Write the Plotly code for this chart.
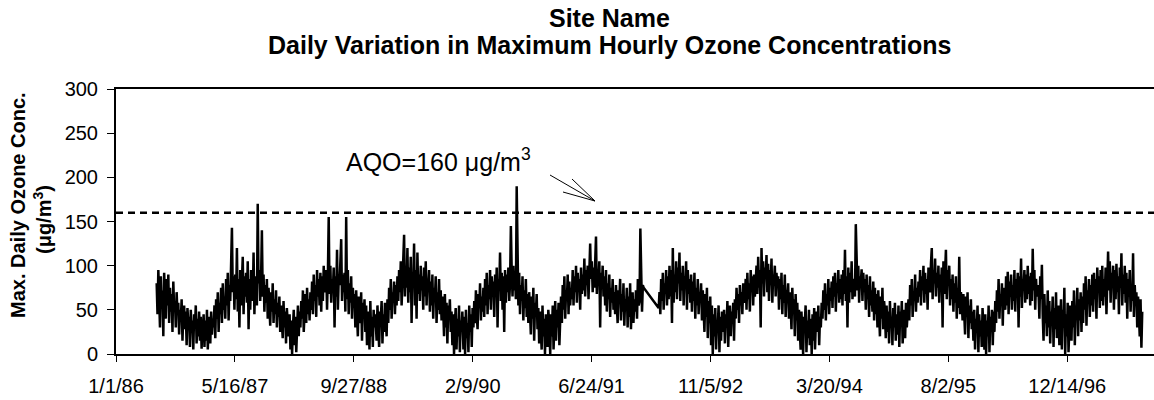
import pandas as pd
import plotly.graph_objects as go

# ---- data: twice-weekly readings of max daily ozone (ug/m3) ----
start_1986 = "1986-06-21"
y1986 = [80, 45, 95, 60, 30, 88, 52, 72, 20, 92, 65, 40, 85,
         55, 90, 35, 75, 48, 68, 25, 82, 50, 60, 30, 70, 45,
         58, 22, 50, 38, 62, 15, 45, 55, 28, 48, 10, 52, 35,
         42, 8, 50, 25, 38, 5, 45, 30, 55, 12, 40, 20, 48,
         15, 42, 6, 35]
y1987 = [25, 45, 8, 38, 15, 50, 5, 32, 42, 12, 48, 22, 40,
         30, 55, 18, 62, 40, 70, 25, 58, 45, 75, 35, 80, 50,
         65, 40, 85, 55, 92, 38, 78, 60, 95, 143, 70, 88, 50,
         90, 62, 120, 48, 85, 30, 95, 55, 80, 110, 45, 88, 65,
         92, 58, 105, 28, 85, 50, 95, 75, 60, 115, 45, 88, 72,
         55, 170, 80, 95, 60, 85, 140, 65, 90, 48, 78, 58, 85,
         40, 75, 55, 32, 70, 48, 80, 35, 62, 45, 72, 30, 58,
         42, 65, 25, 55, 38, 18, 60, 30, 48, 12, 52, 35, 20]
y1988 = [45, 5, 38, 0, 30, 50, 10, 42, 2, 35, 55, 20, 48,
         30, 60, 40, 72, 25, 55, 68, 35, 75, 45, 62, 38, 70,
         50, 82, 45, 90, 60, 78, 42, 95, 65, 85, 55, 92, 48,
         88, 60, 100, 70, 75, 95, 50, 90, 155, 68, 100, 58, 85,
         72, 98, 30, 88, 65, 118, 50, 85, 78, 100, 130, 60, 90,
         70, 92, 48, 155, 62, 95, 45, 80, 58, 88, 40, 75, 55,
         68, 30, 72, 45, 20, 65, 50, 35, 70, 15, 58, 40, 62,
         25, 55, 10, 48, 35, 5, 60, 20, 42, 8, 50, 30, 45]
y1989 = [15, 55, 30, 8, 48, 40, 60, 12, 45, 25, 58, 35, 20,
         62, 35, 75, 50, 85, 40, 70, 58, 82, 45, 78, 55, 88,
         60, 95, 70, 105, 55, 80, 110, 135, 65, 100, 75, 120, 58,
         98, 70, 110, 35, 92, 80, 125, 55, 95, 40, 115, 68, 90,
         60, 100, 72, 88, 50, 98, 65, 105, 55, 85, 78, 95, 48,
         82, 55, 90, 40, 75, 62, 88, 35, 70, 50, 85, 45, 72,
         38, 65, 50, 20, 68, 30, 58, 12, 55, 42, 62, 25, 48,
         10, 45, 0, 35, 52, 5, 40, 20, 55, 2, 38, 28, 48]
y1990 = [5, 42, 0, 50, 18, 35, 2, 55, 25, 45, 8, 52, 30,
         60, 35, 72, 45, 28, 68, 52, 80, 38, 65, 48, 75, 42,
         85, 55, 92, 45, 78, 62, 95, 50, 88, 70, 82, 42, 90,
         65, 98, 30, 85, 72, 115, 60, 92, 50, 88, 25, 95, 58,
         90, 70, 98, 60, 80, 145, 95, 65, 100, 72, 88, 62, 190,
         85, 55, 92, 45, 78, 60, 88, 38, 72, 52, 85, 42, 68,
         35, 70, 50, 22, 65, 40, 75, 15, 58, 45, 68, 28, 52,
         12, 48, 30, 5, 55, 20, 40, 0, 45, 25, 8, 50, 35]
y1991 = [0, 45, 20, 55, 5, 38, 60, 15, 50, 30, 58, 10, 42,
         65, 35, 78, 50, 88, 40, 72, 60, 90, 45, 82, 55, 75,
         62, 95, 55, 88, 70, 100, 58, 92, 75, 85, 50, 98, 68,
         90, 72, 108, 65, 95, 78, 100, 62, 115, 125, 85, 105, 70,
         98, 75, 110, 133, 68, 95, 82, 105, 30, 92, 78, 100, 65,
         88, 55, 95, 48, 80, 62, 90, 42, 75, 58, 85, 50, 70,
         45, 78, 55, 35, 72, 60, 85, 38, 68, 48, 80, 32, 62,
         50, 75, 30, 65, 42, 80, 28, 58, 70, 35, 62, 48, 72]
y1992 = [40, 85, 55, 60, 142, 90, 48, 78, 75, None, None, None, None,
         None, None, None, None, None, None, None, None, None, None, None, None, None,
         52, 70, 45, 85, 60, 92, 50, 80, 68, 95, 55, 88, 62,
         100, 65, 95, 35, 120, 58, 90, 70, 105, 62, 98, 80, 115,
         60, 92, 72, 100, 55, 88, 78, 105, 50, 95, 68, 85, 58,
         90, 48, 82, 60, 92, 40, 75, 55, 85, 45, 70, 62, 80,
         38, 72, 50, 25, 68, 42, 75, 18, 60, 35, 65, 10, 55,
         0, 45, 20, 52, 5, 38, 30, 55, 2, 42, 15, 48, 25]
y1993 = [50, 12, 45, 30, 60, 8, 40, 55, 20, 48, 35, 58, 15,
         62, 40, 75, 50, 68, 35, 78, 55, 70, 45, 80, 58, 65,
         85, 50, 92, 62, 80, 48, 95, 70, 88, 55, 90, 65, 82,
         100, 68, 110, 75, 95, 30, 120, 80, 105, 65, 98, 85, 112,
         70, 102, 60, 95, 78, 108, 58, 90, 82, 100, 65, 92, 75,
         88, 50, 85, 62, 92, 45, 78, 58, 90, 42, 72, 65, 80,
         40, 70, 55, 28, 75, 45, 62, 20, 68, 38, 58, 15, 50,
         30, 5, 48, 22, 0, 42, 35, 55, 2, 38, 18, 50, 10]
y1994 = [40, 0, 45, 15, 52, 5, 35, 48, 25, 55, 10, 42, 30,
         58, 40, 72, 50, 80, 38, 68, 55, 85, 45, 75, 60, 82,
         52, 88, 65, 92, 48, 80, 70, 95, 58, 85, 62, 90, 55,
         95, 68, 118, 60, 88, 30, 98, 58, 92, 70, 105, 62, 85,
         78, 65, 147, 95, 72, 100, 58, 88, 80, 96, 60, 92, 70,
         85, 50, 90, 62, 78, 42, 88, 55, 72, 48, 82, 38, 75,
         45, 68, 30, 72, 52, 20, 65, 40, 75, 28, 60, 48, 18,
         55, 25, 48, 12, 60, 35, 42, 10, 52, 30, 58, 15, 45]
y1995 = [22, 55, 8, 48, 35, 60, 12, 42, 50, 18, 58, 30, 45,
         62, 38, 78, 55, 85, 42, 70, 60, 90, 48, 75, 58, 82,
         65, 95, 55, 88, 72, 100, 58, 92, 68, 85, 50, 98, 75,
         70, 102, 120, 62, 95, 80, 108, 65, 92, 75, 100, 58, 90,
         72, 98, 30, 105, 68, 88, 118, 62, 95, 78, 100, 55, 85,
         62, 90, 48, 80, 58, 88, 40, 75, 52, 110, 45, 70, 60,
         38, 68, 50, 22, 65, 42, 70, 18, 55, 35, 62, 28, 48,
         15, 50, 5, 40, 28, 55, 2, 45, 20, 38, 8, 52, 30]
y1996 = [5, 45, 0, 38, 20, 55, 2, 42, 30, 50, 10, 48, 25,
         60, 35, 72, 48, 85, 40, 68, 55, 80, 32, 75, 62, 50,
         88, 55, 93, 45, 82, 65, 90, 50, 78, 60, 95, 48, 85,
         70, 92, 30, 88, 65, 108, 52, 85, 75, 95, 58, 90, 62,
         100, 68, 88, 55, 92, 60, 119, 72, 95, 50, 85, 65, 78,
         70, 40, 88, 62, 101, 45, 15, 68, 35, 55, 20, 72, 30,
         60, 12, 48, 35, 65, 8, 52, 28, 70, 18, 45, 55, 10,
         40, 62, 5, 50, 30, 75, 0, 45, 20, 58, 2, 38, 55]
y1997 = [15, 60, 30, 72, 10, 55, 45, 75, 20, 62, 38, 70, 25,
         65, 35, 80, 50, 88, 32, 72, 58, 85, 42, 78, 55, 90,
         48, 92, 62, 85, 40, 98, 70, 88, 52, 95, 60, 100, 55,
         85, 65, 98, 45, 90, 116, 72, 105, 58, 92, 78, 100, 50,
         95, 62, 102, 70, 88, 45, 98, 75, 114, 55, 90, 68, 100,
         58, 92, 40, 85, 65, 95, 48, 78, 60, 114, 42, 78, 55,
         70, 30, 65, 45, 20, 62, 7, 48]

AQO = 160
tick_dates = ["1986-01-01", "1987-05-16", "1988-09-27", "1990-02-09", "1991-06-24",
              "1992-11-05", "1994-03-20", "1995-08-02", "1996-12-14"]
tick_labels = ["1/1/86", "5/16/87", "9/27/88", "2/9/90", "6/24/91",
               "11/5/92", "3/20/94", "8/2/95", "12/14/96"]
y_ticks = [0, 50, 100, 150, 200, 250, 300]

# ---- assemble series (one reading every 3.5 days) ----
years = {1987: y1987, 1988: y1988, 1989: y1989, 1990: y1990, 1991: y1991, 1992: y1992,
         1993: y1993, 1994: y1994, 1995: y1995, 1996: y1996, 1997: y1997}
dates = list(pd.date_range(start_1986, periods=len(y1986), freq="84h"))
values = list(y1986)
for yr, vals in years.items():
    dates += list(pd.date_range(f"{yr}-01-01", periods=len(vals), freq="84h"))
    values += vals

# ---- layout geometry (pixels) ----
W, H = 1154, 400
L, R, T, B = 116, 0, 89, 46
PW, PH = W - L - R, H - T - B

def px(x):
    return (x - L) / PW

def py(y):
    return (H - B - y) / PH

FONT = "Liberation Sans, Arial, sans-serif"

fig = go.Figure()
fig.add_trace(go.Scatter(x=dates, y=values, mode="lines", connectgaps=True,
                         line=dict(color="black", width=2.5), hoverinfo="skip"))
fig.add_hline(y=AQO, line=dict(color="black", width=2.5, dash="7px,5px"))

fig.update_layout(
    width=W, height=H,
    margin=dict(l=L, r=R, t=T, b=B),
    paper_bgcolor="white", plot_bgcolor="white",
    showlegend=False,
    font=dict(family=FONT, color="black", size=20),
)
fig.update_xaxes(type="date", range=["1986-01-01", "1997-12-14"],
                 tickmode="array", tickvals=tick_dates, ticktext=tick_labels,
                 ticks="outside", ticklen=6, tickwidth=1, tickcolor="black",
                 showline=True, linecolor="black", linewidth=2, mirror=True,
                 showgrid=False, zeroline=False, ticklabelstandoff=7,
                 tickfont=dict(family=FONT, size=20, color="black"))
fig.update_yaxes(range=[0, 300], tickmode="array", tickvals=y_ticks,
                 ticks="outside", ticklen=7, tickwidth=1, tickcolor="black",
                 showline=True, linecolor="black", linewidth=2, mirror=False,
                 showgrid=False, zeroline=False, ticklabelstandoff=5,
                 tickfont=dict(family=FONT, size=20, color="black"))

# chart title (two lines)
for txt, yc in [("Site Name", 18), ("Daily Variation in Maximum Hourly Ozone Concentrations", 45)]:
    fig.add_annotation(text=f"<b>{txt}</b>", xref="paper", yref="paper",
                       x=px(609), y=py(yc), xanchor="center", yanchor="middle",
                       showarrow=False, font=dict(family=FONT, size=25, color="black"))

# y-axis title (two rotated lines)
for txt, xc, yc in [("Max. Daily Ozone Conc.", 18, 205), ("(μg/m<sup>3</sup>)", 42, 220)]:
    fig.add_annotation(text=f"<b>{txt}</b>", textangle=-90, xref="paper", yref="paper",
                       x=px(xc), y=py(yc), xanchor="center", yanchor="middle",
                       showarrow=False, font=dict(family=FONT, size=20, color="black"))

# AQO label and arrow
fig.add_annotation(text=f"AQO={AQO} μg/m<sup>3</sup>", xref="paper", yref="paper",
                   x=px(438), y=py(160), xanchor="center", yanchor="middle",
                   showarrow=False, font=dict(family=FONT, size=25, color="black"))
for bx, by in [(550, 175), (572, 179), (563, 192)]:
    fig.add_shape(type="line", xref="paper", yref="paper",
                  x0=px(bx), y0=py(by), x1=px(595), y1=py(201),
                  line=dict(color="black", width=1))

fig.write_html("out.html", config={"displayModeBar": False},
               post_script="document.body.style.margin='0px';")
